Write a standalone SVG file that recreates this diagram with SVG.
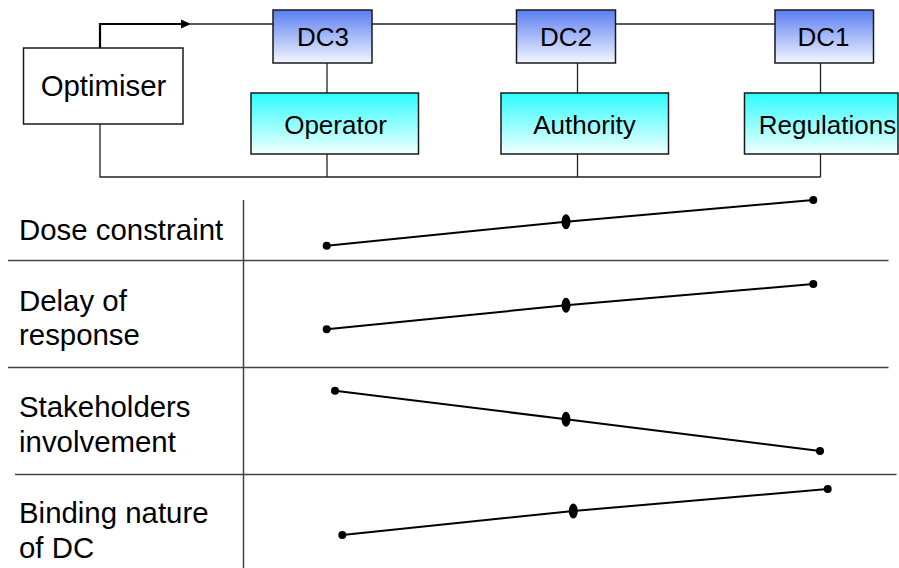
<svg xmlns="http://www.w3.org/2000/svg" width="899" height="568" viewBox="0 0 899 568">
  <defs>
    <linearGradient id="gBlue" x1="0" y1="0" x2="0" y2="1">
      <stop offset="0" stop-color="#5a7ef2"/>
      <stop offset="1" stop-color="#f4f6ff"/>
    </linearGradient>
    <linearGradient id="gCyan" x1="0" y1="0" x2="0" y2="1">
      <stop offset="0" stop-color="#2efcfc"/>
      <stop offset="1" stop-color="#f2ffff"/>
    </linearGradient>
    <style>
      .box { stroke: #1a1a1a; stroke-width: 1.5; }
      .lbl { font-family: "Liberation Sans", Arial, sans-serif; fill: #000; }
      .big { font-size: 29.4px; }
      .mid { font-size: 26px; }
      .conn { fill: none; stroke: #222; stroke-width: 1.3; }
      .thick { stroke: #000; stroke-width: 2.2; }
      .grid { fill: none; stroke: #444; stroke-width: 1.5; }
      .trend { fill: none; stroke: #000; stroke-width: 2; }
      .dot { fill: #000; }
    </style>
  </defs>
  <rect width="899" height="568" fill="#fff"/>

  <g id="connectors">
    <path class="conn thick" d="M100,48 V24 H183"/>
    <polygon points="191,24 181,19.5 181,28.5" fill="#000"/>
    <path class="conn" d="M190,24 H273"/>
    <path class="conn" d="M372,24 H516.5"/>
    <path class="conn" d="M615.5,24 H775"/>
    <path class="conn" d="M327,63 V93"/>
    <path class="conn" d="M577.5,63 V93"/>
    <path class="conn" d="M820.5,63 V93"/>
    <path class="conn" d="M100,124 V177 H820.5"/>
    <path class="conn" d="M327,154 V177"/>
    <path class="conn" d="M577.5,154 V177"/>
    <path class="conn" d="M820.5,154 V177"/>
  </g>

  <g id="optimiser">
    <rect class="box" x="23.5" y="48" width="159.5" height="76" fill="#fff" stroke="#333"/>
    <text class="lbl big" x="103.5" y="95.5" text-anchor="middle">Optimiser</text>
  </g>
  <g id="dc3">
    <rect class="box" x="273" y="10" width="99" height="53" fill="url(#gBlue)"/>
    <text class="lbl mid" x="323" y="46" text-anchor="middle">DC3</text>
  </g>
  <g id="dc2">
    <rect class="box" x="516.5" y="10" width="99" height="53" fill="url(#gBlue)"/>
    <text class="lbl mid" x="566" y="46" text-anchor="middle">DC2</text>
  </g>
  <g id="dc1">
    <rect class="box" x="775" y="10" width="98.5" height="53" fill="url(#gBlue)"/>
    <text class="lbl mid" x="823.5" y="46" text-anchor="middle">DC1</text>
  </g>
  <g id="operator">
    <rect class="box" x="251" y="93" width="167.5" height="61" fill="url(#gCyan)"/>
    <text class="lbl mid" x="335.5" y="133.5" text-anchor="middle">Operator</text>
  </g>
  <g id="authority">
    <rect class="box" x="501" y="93" width="167.5" height="61" fill="url(#gCyan)"/>
    <text class="lbl mid" x="584.5" y="133.5" text-anchor="middle">Authority</text>
  </g>
  <g id="regulations">
    <rect class="box" x="744.5" y="93" width="153.5" height="61" fill="url(#gCyan)"/>
    <text class="lbl mid" x="827.5" y="133.5" text-anchor="middle">Regulations</text>
  </g>

  <g id="grid">
    <path class="grid" d="M243.5,200 V568"/>
    <path class="grid" d="M8,260.5 H888.5"/>
    <path class="grid" d="M8,367.5 H888.5"/>
    <path class="grid" d="M15,474.5 H896.5"/>
  </g>

  <g id="row-labels">
    <text class="lbl big" x="19" y="240">Dose constraint</text>
    <text class="lbl big" x="19" y="311">Delay of</text>
    <text class="lbl big" x="19" y="345">response</text>
    <text class="lbl big" x="19" y="417">Stakeholders</text>
    <text class="lbl big" x="19" y="452">involvement</text>
    <text class="lbl big" x="19" y="523">Binding nature</text>
    <text class="lbl big" x="19" y="558">of DC</text>
  </g>

  <g id="trend-dose">
    <polyline class="trend" points="326.7,245.7 566,221.7 813.3,200"/>
    <circle class="dot" cx="326.7" cy="245.7" r="4"/>
    <ellipse class="dot" cx="566" cy="221.7" rx="4.5" ry="7.5"/>
    <circle class="dot" cx="813.3" cy="200" r="4"/>
  </g>
  <g id="trend-delay">
    <polyline class="trend" points="326.7,329.3 566,305.3 813.3,284"/>
    <circle class="dot" cx="326.7" cy="329.3" r="4"/>
    <ellipse class="dot" cx="566" cy="305.3" rx="4.5" ry="7.5"/>
    <circle class="dot" cx="813.3" cy="284" r="4"/>
  </g>
  <g id="trend-stakeholders">
    <polyline class="trend" points="335,390.7 566,419.3 820,451"/>
    <circle class="dot" cx="335" cy="390.7" r="4"/>
    <ellipse class="dot" cx="566" cy="419.3" rx="4.5" ry="7.5"/>
    <circle class="dot" cx="820" cy="451" r="4"/>
  </g>
  <g id="trend-binding">
    <polyline class="trend" points="342.3,535 573.3,511 827.7,489"/>
    <circle class="dot" cx="342.3" cy="535" r="4"/>
    <ellipse class="dot" cx="573.3" cy="511" rx="4.5" ry="7.5"/>
    <circle class="dot" cx="827.7" cy="489" r="4"/>
  </g>
</svg>
